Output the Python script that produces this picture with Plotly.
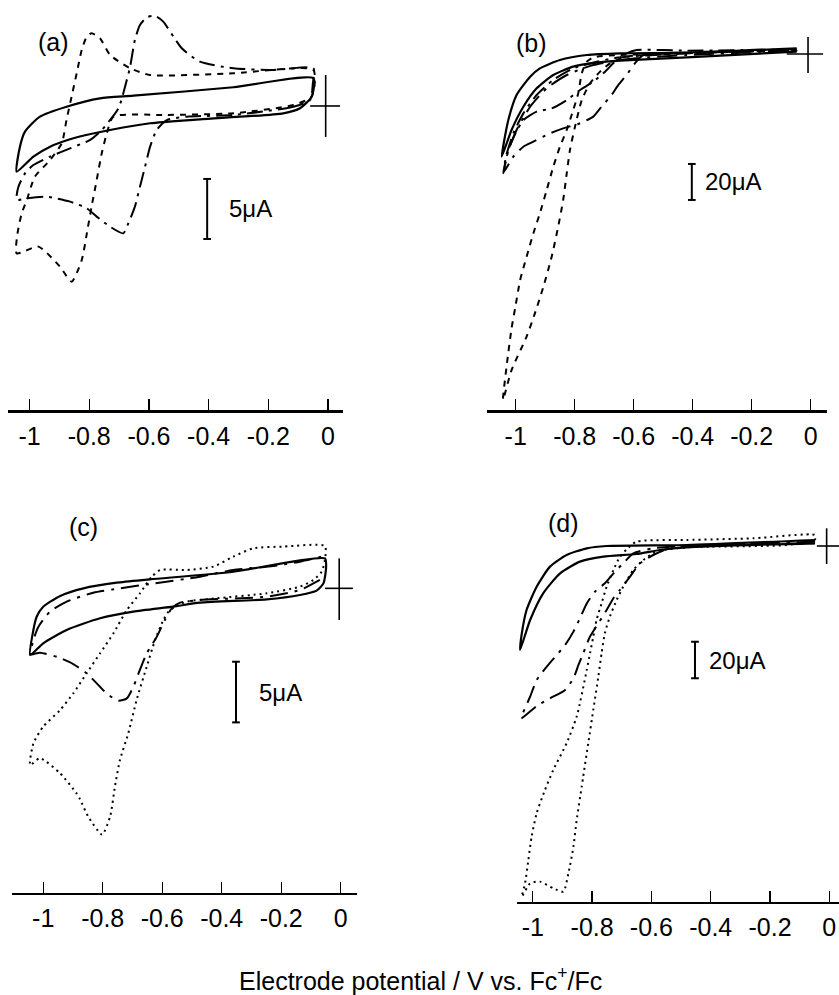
import plotly.graph_objects as go

# ---------------- data (V vs Fc+/Fc, current in microamps) ----------------
tick_vals = [-1, -0.8, -0.6, -0.4, -0.2, 0]
tick_labels = ["-1", "-0.8", "-0.6", "-0.4", "-0.2", "0"]

# panel (a)
a_solid_v = [-0.049, -0.317, -0.652, -0.764, -0.876, -0.965, -1.015, -1.032, -1.043,
             -0.987, -0.931, -0.853, -0.730, -0.596, -0.429, -0.150, -0.094, -0.055, -0.049]
a_solid_i = [2.31, 1.56, 0.86, 0.64, -0.06, -0.89, -2.14, -3.39, -5.47,
             -4.22, -3.39, -2.69, -2.0, -1.44, -1.11, -0.61, -0.19, 0.78, 2.31]
a_dash_v = [-0.055, -0.116, -0.317, -0.540, -0.719, -0.741, -0.758, -0.775, -0.792, -0.806,
            -0.825, -0.859, -0.898, -0.970, -1.043, -1.040, -1.026, -1.009, -0.982, -0.931,
            -0.892, -0.876, -0.859, -0.842, -0.825, -0.808, -0.792, -0.764, -0.730, -0.663,
            -0.596, -0.317, -0.049, -0.055]
a_dash_i = [0.78, 0.08, -0.61, -0.75, -0.89, -2.28, -3.94, -6.17, -8.39, -10.33,
            -12.83, -14.64, -13.39, -11.72, -12.28, -10.61, -8.94, -7.83, -5.89, -4.5,
            -3.11, -1.17, 0.78, 2.72, 4.67, 5.78, 6.06, 5.64, 4.25, 3.14,
            2.58, 2.72, 3.0, 0.78]
a_dashdot_v = [-0.060, -0.116, -0.317, -0.473, -0.540, -0.574, -0.596, -0.613, -0.630, -0.647,
               -0.669, -0.686, -0.730, -0.775, -0.808, -0.864, -0.942, -1.009, -1.043, -1.037,
               -1.015, -0.987, -0.931, -0.864, -0.797, -0.758, -0.702, -0.680, -0.663, -0.647,
               -0.630, -0.607, -0.590, -0.574, -0.552, -0.518, -0.490, -0.429, -0.317, -0.183,
               -0.049, -0.051, -0.060]
a_dashdot_i = [0.5, -0.06, -0.75, -0.89, -1.17, -2.0, -3.39, -5.06, -6.72, -8.39,
               -9.78, -10.61, -10.06, -9.22, -8.53, -7.97, -7.56, -7.69, -7.83, -6.72,
               -5.61, -4.92, -4.22, -3.53, -2.83, -2.0, -0.19, 1.61, 3.28, 5.5,
               6.75, 7.39, 7.5, 7.44, 7.03, 5.78, 4.81, 3.69, 3.14, 3.0,
               3.14, 1.89, 0.5]

# panel (b)
b_solid_v = [-0.0475, -0.420, -0.646, -0.759, -0.850, -0.918, -0.951, -0.997, -1.025, -1.0475,
             -1.014, -0.974, -0.929, -0.8725, -0.805, -0.725, -0.646, -0.420, -0.0475]
b_solid_i = [3.15, 0.74, 0.37, -0.56, -3.33, -7.96, -12.6, -22.8, -36.7, -57.0,
             -42.2, -29.3, -19.07, -11.67, -7.04, -4.81, -3.7, -1.85, 1.30]
b_dash_v = [-0.0475, -0.420, -0.646, -0.737, -0.759, -0.776, -0.788, -0.805, -0.827, -0.850,
            -0.8725, -0.895, -0.918, -0.940, -0.963, -0.985, -1.001, -1.014, -1.031, -1.043,
            -1.014, -0.963, -0.935, -0.906, -0.878, -0.856, -0.839, -0.827, -0.816, -0.799,
            -0.776, -0.748, -0.714, -0.680, -0.624, -0.420, -0.0475]
b_dash_i = [2.22, 0.37, -0.56, -1.85, -4.26, -10.74, -21.85, -31.1, -42.2, -51.5,
            -62.6, -75.6, -88.5, -99.6, -112.6, -125.6, -140.4, -152.4, -173.7, -192.2,
            -175.6, -157.0, -144.1, -129.3, -112.6, -95.9, -81.1, -66.3, -53.3, -40.4,
            -25.6, -16.3, -9.81, -5.19, -1.48, 0.37, 2.22]
b_dashdot_v = [-0.0475, -0.420, -0.590, -0.624, -0.658, -0.697, -0.737, -0.782, -0.827, -0.878,
               -0.929, -0.974, -1.001, -1.025, -1.042, -1.033, -1.008, -0.974, -0.929, -0.8725,
               -0.805, -0.725, -0.646, -0.420, -0.0475]
b_dashdot_i = [2.59, 1.85, 2.22, 0.37, -3.33, -9.81, -15.4, -20.0, -25.6, -30.2,
               -32.0, -36.7, -44.1, -53.3, -66.3, -57.0, -44.1, -33.0, -22.8, -14.4,
               -7.96, -4.26, -1.85, 0.37, 2.22]
b_longdash_v = [-0.0475, -0.420, -0.567, -0.596, -0.624, -0.652, -0.675, -0.709, -0.737, -0.782,
                -0.839, -0.884, -0.940, -0.974, -1.008, -1.040, -1.028, -0.997, -0.951, -0.895,
                -0.827, -0.737, -0.624, -0.420, -0.0475]
b_longdash_i = [1.85, 0.74, -0.56, -5.19, -11.67, -17.2, -22.8, -29.3, -34.8, -38.5,
                -41.3, -44.1, -48.7, -51.5, -57.0, -65.4, -55.2, -42.2, -29.3, -19.07,
                -11.67, -6.1, -2.96, -0.56, 1.85]

# panel (c)
c_solid_v = [-0.053, -0.361, -0.641, -0.753, -0.865, -0.943, -1.0, -1.022, -1.033, -1.044,
             -1.0, -0.921, -0.809, -0.697, -0.563, -0.473, -0.249, -0.137, -0.081, -0.058,
             -0.049, -0.053]
c_solid_i = [2.47, 1.37, 0.74, 0.47, 0.0, -0.63, -1.51, -2.34, -3.43, -5.5,
             -4.53, -3.43, -2.47, -1.92, -1.51, -1.18, -0.91, -0.55, -0.19, 0.41,
             1.79, 2.47]
c_dashdot_v = [-0.070, -0.137, -0.249, -0.473, -0.540, -0.568, -0.591, -0.618, -0.652, -0.675,
               -0.697, -0.719, -0.748, -0.787, -0.820, -0.854, -0.899, -0.949, -1.011, -1.042,
               -1.033, -1.016, -0.977, -0.921, -0.832, -0.742, -0.641, -0.473, -0.361, -0.227,
               -0.137, -0.053]
c_dashdot_i = [0.69, -0.14, -0.69, -0.96, -1.18, -1.65, -2.61, -3.98, -5.36, -6.73,
               -8.11, -9.07, -9.26, -8.66, -7.83, -7.0, -6.24, -5.69, -5.3, -5.44,
               -4.26, -3.16, -1.92, -1.10, -0.36, 0.0, 0.36, 0.96, 1.51, 1.84,
               2.2, 2.67]
c_dot_v = [-0.053, -0.064, -0.092, -0.137, -0.249, -0.417, -0.518, -0.557, -0.579, -0.596,
           -0.624, -0.652, -0.686, -0.714, -0.742, -0.759, -0.775, -0.802, -0.849, -0.876,
           -0.888, -0.943, -1.011, -1.044, -1.033, -1.0, -0.943, -0.899, -0.854, -0.809,
           -0.764, -0.719, -0.675, -0.635, -0.607, -0.518, -0.428, -0.361, -0.294, -0.193,
           -0.053, -0.053]
c_dot_i = [2.34, 1.37, 0.69, 0.14, -0.41, -0.82, -1.10, -1.51, -1.92, -2.61,
           -4.26, -6.46, -9.2, -11.95, -14.15, -16.35, -18.8, -20.3, -18.8, -17.4,
           -16.9, -15.25, -14.0, -14.57, -12.78, -11.4, -10.03, -8.66, -7.0, -5.36,
           -3.71, -1.79, -0.41, 0.96, 1.51, 1.51, 1.79, 2.61, 3.3, 3.44,
           3.49, 2.34]

# panel (d)
d_solid_v = [-0.048, -0.481, -0.751, -0.818, -0.886, -0.942, -0.987, -1.021, -1.037, -1.043,
             -1.009, -0.965, -0.908, -0.841, -0.762, -0.650, -0.571, -0.481, -0.048]
d_solid_i = [3.28, 0.56, 0.0, -1.26, -4.9, -11.26, -22.2, -34.9, -47.6, -56.7,
             -40.35, -25.8, -14.9, -8.53, -5.81, -4.35, -2.17, -0.72, 1.47]
d_dashdot_v = [-0.048, -0.481, -0.594, -0.661, -0.695, -0.723, -0.757, -0.790, -0.818, -0.841,
               -0.863, -0.891, -0.919, -0.953, -0.987, -1.009, -1.039, -0.987, -0.942, -0.891,
               -0.863, -0.846, -0.830, -0.807, -0.779, -0.751, -0.728, -0.706, -0.672, -0.638,
               -0.594, -0.526, -0.048]
d_dashdot_i = [2.37, 0.0, -1.26, -3.99, -9.44, -13.99, -20.35, -24.9, -31.3, -39.4,
               -46.7, -54.0, -59.4, -65.8, -73.1, -82.2, -94.0, -87.3, -83.1, -78.5,
               -72.2, -64.9, -58.5, -49.4, -42.2, -34.9, -28.5, -23.99, -16.7, -9.44,
               -4.9, -0.72, 1.47]
d_dot_v = [-0.048, -0.144, -0.481, -0.571, -0.594, -0.627, -0.661, -0.695, -0.717, -0.740,
           -0.757, -0.768, -0.779, -0.796, -0.813, -0.830, -0.835, -0.852, -0.863, -0.880,
           -0.897, -0.931, -0.976, -1.009, -1.037, -1.026, -1.015, -1.004, -0.987, -0.959,
           -0.931, -0.886, -0.852, -0.818, -0.807, -0.796, -0.785, -0.768, -0.751, -0.728,
           -0.706, -0.683, -0.650, -0.481, -0.256, -0.048, -0.048]
d_dot_i = [3.65, 0.56, -0.72, -2.53, -3.99, -7.62, -13.08, -22.17, -29.4, -38.5,
           -47.6, -58.5, -71.3, -89.4, -107.6, -125.8, -131.3, -149.5, -164.0, -178.6,
           -188.6, -186.7, -183.1, -184.0, -191.3, -184.0, -171.3, -158.6, -145.8, -133.1,
           -122.2, -107.6, -93.1, -67.7, -58.5, -49.4, -40.35, -31.3, -22.17, -13.08,
           -5.81, -1.8, 2.37, 3.28, 4.19, 6.01, 3.65]

# scale bars (microamps) and panel letters
scale_a, scale_b, scale_c, scale_d = 5, 20, 5, 20
panel_letters = ["(a)", "(b)", "(c)", "(d)"]
x_title = "Electrode potential / V vs. Fc<sup>+</sup>/Fc"

# ---------------- figure ----------------
FONT = "Liberation Sans, Arial, Helvetica, sans-serif"
W, H = 839, 995

DASH_SHORT = "6px,6px"
DASH_DOT = "16px,6px,3px,6px"
DOTTED = "2px,4px"

fig = go.Figure()

def add(v, i, ax, dash, width=2.0):
    fig.add_trace(go.Scatter(
        x=v, y=i, xaxis="x" + ax, yaxis="y" + ax, mode="lines",
        line=dict(color="black", width=width, dash=dash, shape="spline", smoothing=0.6),
        showlegend=False, hoverinfo="skip"))

add(a_solid_v, a_solid_i, "", "solid", 2.2)
add(a_dash_v, a_dash_i, "", DASH_SHORT)
add(a_dashdot_v, a_dashdot_i, "", DASH_DOT)

add(b_solid_v, b_solid_i, "2", "solid", 2.2)
add(b_dash_v, b_dash_i, "2", DASH_SHORT)
add(b_dashdot_v, b_dashdot_i, "2", DASH_DOT)
add(b_longdash_v, b_longdash_i, "2", "20px,7px,3px,7px")

add(c_solid_v, c_solid_i, "3", "solid", 2.2)
add(c_dashdot_v, c_dashdot_i, "3", "18px,7px,3px,7px")
add(c_dot_v, c_dot_i, "3", DOTTED, 2.0)

add(d_solid_v, d_solid_i, "4", "solid", 2.2)
add(d_dashdot_v, d_dashdot_i, "4", "18px,7px,3px,7px")
add(d_dot_v, d_dot_i, "4", DOTTED, 2.0)

def px2(v):
    return v / 839.0

def py2(v):
    return 1 - v / 995.0

panels = {
    "": dict(xd=[px2(8), px2(343)], yd=[py2(410), py2(0)], xr=[-1.072, 0.050], yr=[-25.33, 8.83]),
    "2": dict(xd=[px2(487), px2(827)], yd=[py2(410), py2(0)], xr=[-1.0973, 0.0553], yr=[-197.8, 30.0]),
    "3": dict(xd=[px2(12), px2(357)], yd=[py2(892.7), py2(460)], xr=[-1.1049, 0.0548], yr=[-25.09, 10.58]),
    "4": dict(xd=[px2(516.7), 1.0], yd=[py2(901.7), py2(460)], xr=[-1.0543, 0.0327], yr=[-194.05, 46.92]),
}

layout = dict(
    width=W, height=H, autosize=False,
    margin=dict(l=0, r=0, t=0, b=0),
    paper_bgcolor="white", plot_bgcolor="white",
    font=dict(family=FONT, color="black", size=25),
)
for k, p in panels.items():
    layout["xaxis" + k] = dict(
        domain=p["xd"], range=p["xr"], anchor="y" + k,
        tickvals=tick_vals, ticktext=tick_labels,
        ticks="inside", ticklen=11, tickwidth=1.3, tickcolor="black",
        showline=True, linecolor="black", linewidth=2.5,
        showgrid=False, zeroline=False, fixedrange=True,
        tickfont=dict(family=FONT, size=25, color="black"),
        ticklabelstandoff=2,
    )
    layout["yaxis" + k] = dict(
        domain=p["yd"], range=p["yr"], anchor="x" + k,
        visible=False, showgrid=False, zeroline=False, fixedrange=True,
    )
fig.update_layout(**layout)

shapes = []
annotations = []

def line(ax, x0, y0, x1, y1, w=1.6):
    shapes.append(dict(type="line", xref="x" + ax, yref="y" + ax,
                       x0=x0, y0=y0, x1=x1, y1=y1,
                       line=dict(color="black", width=w)))

# origin crosses
crosses = {
    "": (-0.008, 2.58, -2.58, -0.060, 0.040),
    "2": (-0.009, 9.4, -10.6, -0.081, 0.042),
    "3": (-0.005, 2.47, -2.61, -0.053, 0.041),
    "4": (-0.009, 9.66, -9.82, -0.042, 0.033),
}
for ax, (xv, ytop, ybot, xl, xr) in crosses.items():
    line(ax, xv, ytop, xv, ybot)
    line(ax, xl, 0, xr, 0)

# scale bars
bars = {
    "": (-0.405, -6.08, scale_a, 0.013, -0.340, "5μA"),
    "2": (-0.403, -61.1, scale_b, 0.013, -0.365, "20μA"),
    "3": (-0.352, -6.05, scale_c, 0.013, -0.283, "5μA"),
    "4": (-0.453, -52.2, scale_d, 0.013, -0.413, "20μA"),
}
for ax, (xv, ytop, size, cap, xt, label) in bars.items():
    ybot = ytop - size
    line(ax, xv, ytop, xv, ybot, 2.0)
    line(ax, xv - cap, ytop, xv + cap, ytop, 2.0)
    line(ax, xv - cap, ybot, xv + cap, ybot, 2.0)
    annotations.append(dict(xref="x" + ax, yref="y" + ax, x=xt, y=(ytop + ybot) / 2,
                            text=label, showarrow=False, xanchor="left", yanchor="middle",
                            font=dict(family=FONT, size=24, color="black")))

# panel letters
letters_pos = {"": (-0.918, 5.33), "2": (-0.945, 6.1), "3": (-0.866, 5.05), "4": (-0.898, 12.5)}
for (ax, (xv, yv)), lab in zip(letters_pos.items(), panel_letters):
    annotations.append(dict(xref="x" + ax, yref="y" + ax, x=xv, y=yv, text=lab,
                            showarrow=False, xanchor="center", yanchor="middle",
                            font=dict(family=FONT, size=25, color="black")))

annotations.append(dict(xref="paper", yref="paper", x=420 / 839, y=1 - 979 / 995,
                        text=x_title, showarrow=False, xanchor="center", yanchor="middle",
                        font=dict(family=FONT, size=25, color="black")))

fig.update_layout(shapes=shapes, annotations=annotations)
fig.write_html("out.html",
               config={"displayModeBar": False, "staticPlot": True},
               post_script="document.body.style.margin='0';document.body.style.overflow='hidden';")
